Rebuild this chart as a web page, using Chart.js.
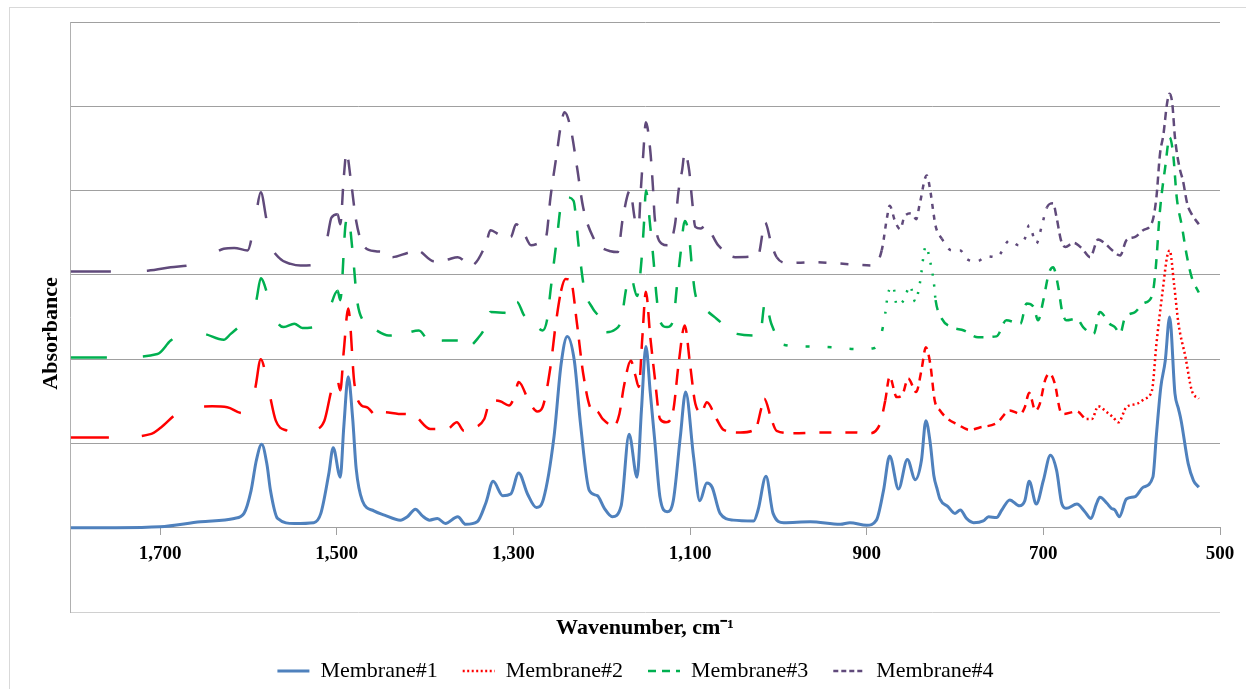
<!DOCTYPE html>
<html>
<head>
<meta charset="utf-8">
<script src="https://cdn.jsdelivr.net/npm/chart.js@4"></script>
<style>
  html, body { margin: 0; padding: 0; background: #fff; overflow: hidden; }
  #wrap { position: relative; width: 1246px; height: 689px; }
  #frame { position: absolute; left: 9px; top: 7px; width: 1300px; height: 800px;
           border-left: 1px solid #d9d9d9; border-top: 1px solid #d9d9d9; }
  canvas { position: absolute; left: 0; top: 0; }
</style>
</head>
<body>
<div id="wrap">
  <div id="frame"></div>
  <canvas id="myChart" width="1246" height="689"></canvas>
</div>
<script>
// wavenumbers (cm-1) and absorbance, stacked with offsets
const seriesNames = ['Membrane#1', 'Membrane#2', 'Membrane#3', 'Membrane#4'];
const xTickValues = [1700, 1500, 1300, 1100, 900, 700, 500];
const yGridValues = [-1, 0, 1, 2, 3, 4, 5, 6];

const wn1 = [1801,1750,1700,1654,1616,1605,1597,1591,1585,1579, 1575,1567,1548,1526,1518,1509,1504,1496,1492,1487,
  1482,1478,1471,1458,1446,1428,1420,1411,1403,1395, 1386,1377,1363,1354,1341,1331,1323,1312,1303,1294,
  1284,1274,1266,1254,1246,1239,1231,1224,1214,1205, 1197,1188,1178,1169,1160,1155,1150,1145,1140,1134,
  1126,1119,1111,1105,1096,1089,1081,1075,1066,1051, 1028,1023,1014,1006,994,964,930,919,900,889,
  881,874,864,854,845,838,833,828,824,820, 817,808,800,794,787,779,768,762,753,747,
  738,727,721,716,708,700,692,685,679,674, 662,653,646,640,636,628,623,619,614,606,
  596,587,576,572,567,562,557,551,547,544, 536,530,524];
const abs1 = [0.00,0.00,0.01,0.07,0.11,0.17,0.44,0.80,0.99,0.75, 0.44,0.11,0.05,0.06,0.17,0.64,0.95,0.60,1.20,1.79,
  1.30,0.70,0.32,0.20,0.15,0.09,0.13,0.22,0.14,0.09, 0.11,0.05,0.13,0.04,0.07,0.30,0.55,0.38,0.40,0.65,
  0.40,0.24,0.34,1.08,1.94,2.27,1.98,1.23,0.44,0.38, 0.23,0.13,0.26,1.11,0.60,1.40,2.15,1.60,1.04,0.36,
  0.19,0.32,1.08,1.61,0.84,0.32,0.53,0.48,0.17,0.09, 0.08,0.21,0.61,0.17,0.06,0.07,0.04,0.06,0.03,0.09,
  0.44,0.85,0.46,0.81,0.57,0.80,1.27,1.00,0.62,0.45, 0.34,0.25,0.17,0.21,0.11,0.06,0.08,0.13,0.12,0.21,
  0.33,0.26,0.32,0.55,0.28,0.56,0.86,0.68,0.28,0.23, 0.28,0.19,0.11,0.28,0.36,0.29,0.23,0.21,0.13,0.34,
  0.37,0.48,0.60,1.10,1.67,1.98,2.50,1.59,1.41,1.27, 0.76,0.56,0.48];

const wn2 = [1801,1752,1711,1699,1679,1660,1641,1624,1607,1598, 1592,1586,1577,1569,1556,1542,1528,1514,1507,1501,
  1496,1492,1487,1480,1472,1466,1455,1446,1430,1414, 1394,1375,1364,1356,1345,1333,1326,1315,1305,1299,
  1294,1282,1273,1267,1258,1252,1246,1241,1235,1228, 1221,1212,1205,1199,1186,1180,1175,1167,1162,1158,
  1154,1150,1145,1140,1134,1127,1119,1113,1106,1100, 1094,1087,1081,1070,1062,1043,1026,1019,1016,1008,
  1002,983,945,915,898,885,879,874,866,860, 853,844,838,833,828,823,817,808,798,783,
  772,753,738,726,721,716,709,704,698,693, 687,681,677,662,651,645,638,628,621,615,
  606,594,585,577,572,564,560,557,552,547, 539,532,524];
const abs2 = [1.07,1.07,1.11,1.19,1.37,1.43,1.44,1.43,1.36,1.40, 1.67,2.00,1.63,1.27,1.15,1.12,1.15,1.27,1.59,1.85,
  1.63,2.10,2.60,1.71,1.45,1.43,1.33,1.37,1.35,1.34, 1.17,1.17,1.25,1.15,1.18,1.29,1.51,1.50,1.45,1.55,
  1.73,1.49,1.38,1.43,1.91,2.42,2.81,2.95,2.93,2.42, 1.83,1.41,1.38,1.29,1.21,1.35,1.67,1.98,1.81,1.67,
  2.26,2.80,2.26,1.79,1.29,1.25,1.39,1.94,2.40,1.94, 1.47,1.37,1.49,1.29,1.16,1.13,1.17,1.43,1.53,1.29,
  1.15,1.12,1.13,1.13,1.12,1.23,1.51,1.79,1.55,1.57, 1.77,1.61,1.87,2.14,1.94,1.51,1.39,1.29,1.23,1.16,
  1.19,1.24,1.39,1.35,1.43,1.60,1.39,1.47,1.75,1.83, 1.71,1.39,1.35,1.38,1.29,1.29,1.44,1.37,1.31,1.25,
  1.43,1.47,1.53,1.63,2.18,2.89,3.21,3.29,2.89,2.42, 2.02,1.63,1.53];

const wn3 = [1801,1752,1703,1688,1671,1650,1628,1620,1609,1598, 1591,1586,1577,1568,1560,1548,1539,1525,1511,1506,
  1499,1496,1490,1487,1482,1477,1470,1458,1441,1425, 1407,1394,1380,1363,1354,1340,1331,1326,1310,1301,
  1296,1288,1275,1267,1262,1258,1251,1245,1239,1232, 1226,1220,1210,1203,1195,1185,1178,1172,1167,1160,
  1155,1152,1150,1145,1141,1138,1134,1126,1119,1115, 1111,1106,1101,1098,1094,1085,1070,1047,1021,1015,
  1008,994,968,938,912,892,883,879,876,870, 866,858,851,845,840,833,828,824,822,815,
  804,790,774,753,742,726,719,711,706,700, 694,689,683,679,674,662,655,643,636,625,
  619,613,608,596,587,577,573,568,562,557, 553,549,543,538,532,524];
const abs3 = [2.02,2.02,2.06,2.22,2.32,2.30,2.23,2.30,2.40,2.50, 2.70,2.96,2.72,2.45,2.38,2.42,2.37,2.38,2.46,2.66,
  2.81,2.70,3.60,3.68,3.27,2.70,2.45,2.36,2.28,2.30, 2.34,2.20,2.22,2.22,2.13,2.25,2.40,2.56,2.55,2.54,
  2.68,2.52,2.40,2.34,2.46,2.81,3.41,3.88,3.92,3.88, 3.33,2.85,2.60,2.50,2.32,2.35,2.46,2.85,2.97,2.75,
  3.17,3.64,4.00,3.57,3.13,2.75,2.45,2.38,2.46,2.85, 3.23,3.64,3.45,3.11,2.77,2.62,2.48,2.30,2.28,2.68,
  2.42,2.17,2.15,2.14,2.12,2.13,2.32,2.54,2.77,2.86, 2.64,2.70,2.87,2.68,2.89,3.34,3.15,2.91,2.70,2.48,
  2.38,2.34,2.26,2.27,2.46,2.42,2.66,2.62,2.46,2.70, 3.01,3.09,2.85,2.58,2.46,2.48,2.38,2.30,2.56,2.42,
  2.38,2.30,2.48,2.56,2.66,2.75,3.05,3.76,4.28,4.63, 4.43,3.92,3.57,3.25,2.97,2.79];

const wn4 = [1801,1754,1714,1688,1661,1640,1628,1616,1601,1592, 1586,1580,1575,1565,1552,1541,1526,1511,1506,1499,
  1496,1492,1489,1484,1478,1470,1456,1446,1437,1420, 1409,1390,1375,1363,1348,1331,1326,1315,1303,1297,
  1288,1280,1270,1263,1258,1251,1246,1242,1235,1228, 1221,1209,1201,1190,1182,1176,1168,1162,1158,1156,
  1153,1150,1145,1142,1140,1132,1125,1117,1113,1109, 1106,1101,1098,1094,1088,1083,1068,1049,1023,1015,
  1008,1002,989,960,938,911,892,883,877,874, 868,862,857,849,844,840,832,828,825,822,
  815,804,794,787,775,764,753,738,728,721, 716,708,702,696,689,685,680,675,666,656,
  647,638,630,623,613,606,596,587,577,572, 568,564,560,557,554,551,546,542,537,532,
  524];
const abs4 = [3.04,3.04,3.05,3.09,3.13,3.25,3.31,3.32,3.29,3.68, 3.98,3.68,3.38,3.20,3.13,3.11,3.12,3.43,3.68,3.72,
  3.60,4.16,4.45,4.12,3.64,3.35,3.28,3.27,3.21,3.26, 3.29,3.16,3.18,3.21,3.11,3.37,3.53,3.47,3.45,3.60,
  3.49,3.35,3.38,3.45,3.92,4.43,4.79,4.93,4.73,4.28, 3.80,3.43,3.33,3.28,3.27,3.68,4.00,3.64,3.60,3.96,
  4.43,4.81,4.47,4.04,3.68,3.37,3.35,3.60,4.00,4.24, 4.45,4.24,3.92,3.57,3.55,3.58,3.35,3.21,3.23,3.62,
  3.37,3.21,3.14,3.15,3.14,3.12,3.11,3.29,3.68,3.82, 3.64,3.54,3.70,3.73,3.66,3.84,4.18,4.00,3.78,3.58,
  3.43,3.29,3.29,3.19,3.16,3.22,3.21,3.41,3.35,3.43, 3.59,3.37,3.57,3.80,3.85,3.68,3.41,3.33,3.38,3.31,
  3.21,3.42,3.37,3.30,3.23,3.41,3.45,3.53,3.62,3.92, 4.43,4.67,5.03,5.15,5.03,4.63,4.28,4.12,3.84,3.72,
  3.60];

// styling
const fontFamily = "'Liberation Serif', 'Times New Roman', serif";
const seriesColors = ['#4F81BD', '#FF0000', '#00B050', '#604A7B'];
const legendDash = [[], [2, 2.5], [8, 6], [5, 3]];
// dash pattern changes along the trace like in the original export
const redBands = [[1500, [38, 33]], [1250, [20, 15]], [1000, [16, 10]], [880, [12, 14]], [660, [8, 6]], [0, [2, 3]]];
const greenBands = [[1500, [36, 36]], [1005, [16, 20]], [880, [4, 18]], [823, [2, 9]], [0, [10, 9]]];
const purpleBands = [[1500, [40, 36]], [1005, [16, 14]], [888, [8, 14]], [820, [5, 6]], [700, [3, 9]], [0, [8, 5]]];

const bandDash = bands => ctx => {
  const x = ctx.p0.parsed.x;
  for (const b of bands) {
    if (x >= b[0]) return b[1];
  }
  return bands[bands.length - 1][1];
};

const toPoints = (xs, ys) => xs.map((x, i) => ({ x: x, y: ys[i] }));

const line = (i, xs, ys, width, bands) => {
  const ds = {
    label: seriesNames[i],
    data: toPoints(xs, ys),
    borderColor: seriesColors[i],
    backgroundColor: seriesColors[i],
    borderWidth: width,
    borderDash: legendDash[i],
    pointRadius: 0,
    fill: false,
    cubicInterpolationMode: 'monotone'
  };
  if (bands) ds.segment = { borderDash: bandDash(bands) };
  return ds;
};

const ctx = document.getElementById('myChart');

new Chart(ctx, {
  type: 'line',
  data: {
    datasets: [
      line(0, wn1, abs1, 3),
      line(1, wn2, abs2, 2.5, redBands),
      line(2, wn3, abs3, 2.5, greenBands),
      line(3, wn4, abs4, 2.5, purpleBands)
    ]
  },
  options: {
    responsive: false,
    animation: false,
    layout: { padding: { top: 22, right: 26, bottom: -3, left: 51 } },
    plugins: {
      tooltip: { enabled: false },
      legend: {
        position: 'bottom',
        labels: {
          usePointStyle: true,
          pointStyle: 'line',
          pointStyleWidth: 32,
          padding: 25,
          color: '#000',
          font: { family: fontFamily, size: 22 },
          generateLabels: chart =>
            Chart.defaults.plugins.legend.labels.generateLabels(chart).map((item, i) =>
              Object.assign(item, {
                lineDash: legendDash[i],
                lineWidth: i === 0 ? 3 : 2.5,
                strokeStyle: seriesColors[i],
                lineCap: 'butt'
              }))
        }
      }
    },
    scales: {
      x: {
        type: 'linear',
        reverse: true,
        min: 500,
        max: 1802,
        position: { y: 0 },
        afterBuildTicks: s => { s.ticks = xTickValues.map(v => ({ value: v })); },
        grid: { drawOnChartArea: false, drawTicks: true, tickLength: 7, color: '#a0a0a0' },
        border: { color: '#a0a0a0' },
        ticks: {
          color: '#000',
          padding: 8,
          maxRotation: 0,
          font: { family: fontFamily, size: 19, weight: 'bold' },
          callback: v => v.toLocaleString('en-US')
        }
      },
      x2: {
        type: 'linear',
        axis: 'x',
        position: 'bottom',
        afterFit: s => { s.height = 23; },
        grid: { display: false },
        border: { display: false },
        ticks: { display: false },
        title: {
          display: true,
          text: 'Wavenumber, cm\u207B\u00B9',
          color: '#000',
          font: { family: fontFamily, size: 22, weight: 'bold' },
          padding: { top: 0, bottom: -7 }
        }
      },
      y: {
        min: -1,
        max: 6,
        afterBuildTicks: s => { s.ticks = yGridValues.map(v => ({ value: v })); },
        afterFit: s => { s.width = 19; },
        grid: {
          drawTicks: false,
          color: c => (c.tick && c.tick.value === -1 ? '#d0d0d0' : '#a0a0a0')
        },
        border: { color: '#b0b0b0' },
        ticks: { display: false },
        title: {
          display: true,
          text: 'Absorbance\u2002\u2002\u2002',
          color: '#000',
          font: { family: fontFamily, size: 22, weight: 'bold' },
          padding: { top: -13, bottom: 0 }
        }
      }
    }
  }
});
</script>
</body>
</html>
